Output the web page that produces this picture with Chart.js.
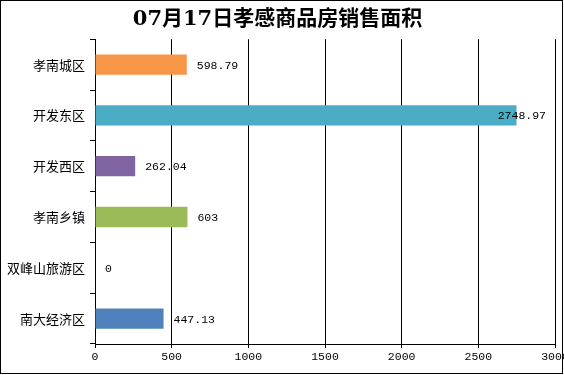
<!DOCTYPE html>
<html>
<head>
<meta charset="utf-8">
<script src="https://cdn.jsdelivr.net/npm/chart.js@4"></script>
<style>
  html, body { margin: 0; padding: 0; background: #fff; }
  #wrap { width: 564px; height: 375px; }
</style>
</head>
<body>
<div id="wrap"><canvas id="areaChart" width="564" height="375"></canvas></div>
<script>
// 数据
const districts = ['孝南城区', '开发东区', '开发西区', '孝南乡镇', '双峰山旅游区', '南大经济区'];
const areas = [598.79, 2748.97, 262.04, 603, 0, 447.13];
const barColors = ['#F79646', '#4BACC6', '#8064A2', '#9BBB59', '#4F81BD', '#4F81BD'];
const xTicks = [0, 500, 1000, 1500, 2000, 2500, 3000];

// 数值标签 + 外框
const valueLabels = {
  id: 'valueLabels',
  afterDatasetsDraw(chart) {
    const ctx = chart.ctx;
    const meta = chart.getDatasetMeta(0);
    ctx.save();
    ctx.font = '11.5px "Liberation Mono", "DejaVu Sans Mono", monospace';
    ctx.fillStyle = '#000';
    ctx.textBaseline = 'middle';
    meta.data.forEach((bar, i) => {
      const txt = String(areas[i]);
      const w = ctx.measureText(txt).width;
      let x = bar.x + 10;
      if (x + w > chart.width - 18) x = chart.width - 18 - w;
      ctx.fillText(txt, x, bar.y + 1);
    });
    ctx.restore();
  },
  afterDraw(chart) {
    const ctx = chart.ctx;
    ctx.save();
    ctx.strokeStyle = '#000';
    ctx.lineWidth = 1;
    ctx.strokeRect(0.5, 0.5, 562, 373);
    ctx.restore();
  }
};

const config = {
  type: 'bar',
  data: {
    labels: districts,
    datasets: [{
      data: areas,
      backgroundColor: barColors,
      borderWidth: 0,
      categoryPercentage: 1,
      barPercentage: 0.4
    }]
  },
  options: {
    indexAxis: 'y',
    responsive: false,
    animation: false,
    layout: { padding: { left: 0, right: 9, top: 0, bottom: 0 } },
    plugins: {
      legend: { display: false },
      tooltip: { enabled: false },
      title: {
        display: true,
        text: '07月17日孝感商品房销售面积',
        color: '#000',
        font: { size: 21, weight: 'bold', family: '"DejaVu Serif", "Noto Sans CJK SC", serif' },
        padding: { top: 7, bottom: 7 }
      }
    },
    scales: {
      x: {
        min: 0,
        max: 3000,
        afterBuildTicks(scale) {
          scale.ticks = xTicks.map(v => ({ value: v }));
        },
        afterFit(scale) {
          scale.height = 31;
          scale.paddingLeft = 0;
          scale.paddingRight = 0;
        },
        border: { color: '#000', width: 1 },
        grid: { color: '#000', lineWidth: 1, tickLength: 4 },
        ticks: {
          color: '#000',
          padding: 2,
          maxRotation: 0,
          callback: v => String(v),
          font: { size: 11.5, family: '"Liberation Mono", "DejaVu Sans Mono", monospace' }
        }
      },
      y: {
        afterFit(scale) {
          scale.width = 95;
          scale.paddingTop = 0;
          scale.paddingBottom = 0;
        },
        border: { color: '#000', width: 1 },
        grid: { drawOnChartArea: false, color: '#000', tickLength: 5, offset: true },
        ticks: {
          color: '#000',
          padding: 5,
          font: { size: 13, family: '"Noto Sans CJK SC", sans-serif' }
        }
      }
    }
  },
  plugins: [valueLabels]
};

const ctx = document.getElementById('areaChart').getContext('2d');
new Chart(ctx, config);
</script>
</body>
</html>
